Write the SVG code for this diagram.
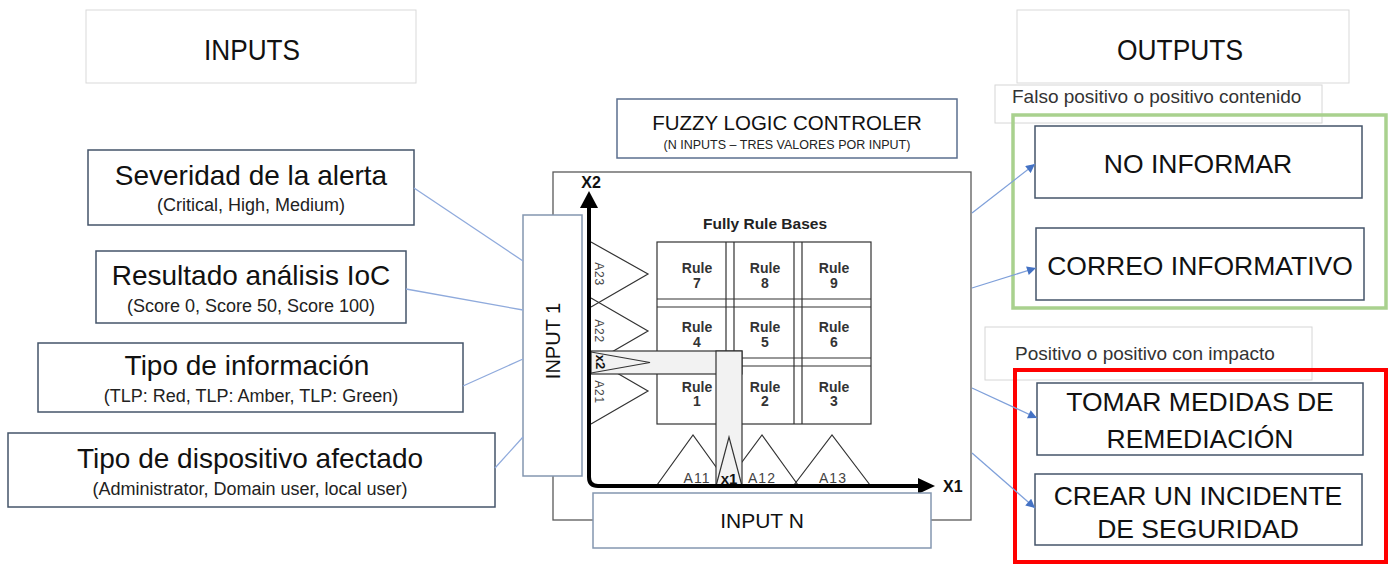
<svg xmlns="http://www.w3.org/2000/svg" width="1389" height="564" viewBox="0 0 1389 564">
<defs>
<marker id="ah" viewBox="0 0 10 10" refX="10" refY="5" markerWidth="10" markerHeight="9" markerUnits="userSpaceOnUse" orient="auto"><path d="M0,0 L10,5 L0,10 z" fill="#4472C4"/></marker>
<style>
text{font-family:"Liberation Sans",Arial,Helvetica,sans-serif}
.node{fill:#fff;stroke:#44546A;stroke-width:1.5}
.hdr{fill:#fff;stroke:#d9d9d9;stroke-width:1}
.tag{fill:#fff;stroke:#d6d6d6;stroke-width:1}
.tt{font-size:28px;text-anchor:middle;fill:#111}
.st{font-size:18px;text-anchor:middle;fill:#222}
.ot{font-size:26.5px;text-anchor:middle;fill:#111}
.lbl{font-size:19px;fill:#333}
.ln{stroke:#333;stroke-width:1.2;fill:none}
.band{fill:#f2f2f2;stroke:#333;stroke-width:1.2}
.rl{font-size:14px;font-weight:bold;text-anchor:middle;fill:#333}
.mf{font-size:14px;letter-spacing:1px;text-anchor:middle;fill:#444}
.mv{font-size:12px;letter-spacing:0.8px;text-anchor:middle;fill:#444}
.ax{font-size:16px;font-weight:bold;fill:#111}
.in{stroke:#8FAADC;stroke-width:1.3;fill:none}
.out{stroke:#7FA0DA;stroke-width:1.3;fill:none;marker-end:url(#ah)}
</style>
</defs>
<rect x="0" y="0" width="1389" height="564" fill="#fff"/>

<g id="inputs-header">
<rect class="hdr" x="86" y="10" width="330" height="73"/>
<text x="252" y="60" font-size="30" text-anchor="middle" textLength="96" lengthAdjust="spacingAndGlyphs" fill="#111">INPUTS</text>
</g>
<g id="outputs-header">
<rect class="hdr" x="1017" y="10" width="332" height="73"/>
<text x="1180" y="60" font-size="30" text-anchor="middle" textLength="126" lengthAdjust="spacingAndGlyphs" fill="#111">OUTPUTS</text>
</g>

<g id="fuzzy-controller">
<rect x="553" y="172" width="418" height="348" fill="#fff" stroke="#595959" stroke-width="1.3"/>
</g>
<g id="flc-title">
<rect x="617" y="99" width="340" height="59" fill="#fff" stroke="#5B6F8F" stroke-width="1.5"/>
<text x="787" y="130" font-size="20.5" text-anchor="middle" fill="#111">FUZZY LOGIC CONTROLER</text>
<text x="787" y="149" font-size="12.5" text-anchor="middle" fill="#222">(N INPUTS – TRES VALORES POR INPUT)</text>
</g>

<g id="rule-base">
<text x="765" y="229" font-size="15.5" font-weight="bold" text-anchor="middle" fill="#222">Fully Rule Bases</text>
<rect class="ln" x="657" y="242" width="214" height="182"/>
<path class="ln" d="M726,242V424M734,242V424M794,242V424M802,242V424M657,299H871M657,307H871M657,358H871M657,366H871"/>
<text class="rl" x="697" y="273">Rule</text><text class="rl" x="697" y="288">7</text>
<text class="rl" x="765" y="273">Rule</text><text class="rl" x="765" y="288">8</text>
<text class="rl" x="834" y="273">Rule</text><text class="rl" x="834" y="288">9</text>
<text class="rl" x="697" y="332">Rule</text><text class="rl" x="697" y="347">4</text>
<text class="rl" x="765" y="332">Rule</text><text class="rl" x="765" y="347">5</text>
<text class="rl" x="834" y="332">Rule</text><text class="rl" x="834" y="347">6</text>
<text class="rl" x="697" y="392">Rule</text><text class="rl" x="697" y="406">1</text>
<text class="rl" x="765" y="392">Rule</text><text class="rl" x="765" y="406">2</text>
<text class="rl" x="834" y="392">Rule</text><text class="rl" x="834" y="406">3</text>
</g>

<g id="membership-x2">
<polyline class="ln" points="591,242 648,274 591,307"/>
<polyline class="ln" points="591,298 648,331 591,364"/>
<polyline class="ln" points="591,358 648,391 591,424"/>
<text class="mv" transform="translate(595,274) rotate(90)">A23</text>
<text class="mv" transform="translate(595,331) rotate(90)">A22</text>
<text class="mv" transform="translate(595,392) rotate(90)">A21</text>
</g>
<g id="membership-x1">
<polyline class="ln" points="657,485 693,435 729,485"/>
<polyline class="ln" points="725,485 762,435 798,485"/>
<polyline class="ln" points="794,485 832,435 870,485"/>
<text class="mf" x="697" y="483">A11</text>
<text class="mf" x="762" y="483">A12</text>
<text class="mf" x="833" y="483">A13</text>
</g>
<g id="x2-band">
<rect class="band" x="591" y="351" width="151" height="23"/>
<polyline class="ln" points="591,352 650,362.5 591,373"/>
<text transform="translate(596,362) rotate(90)" font-size="13" font-weight="bold" text-anchor="middle" fill="#111">x2</text>
</g>
<g id="x1-band">
<rect class="band" x="716" y="351" width="26" height="135"/>
<polyline class="ln" points="716,486 729,437 742,486"/>
<text x="729" y="484" font-size="15" font-weight="bold" text-anchor="middle" fill="#111">x1</text>
</g>
<g id="axes">
<path d="M589,206V477Q589,486 598,486H920" fill="none" stroke="#000" stroke-width="4"/>
<polygon points="589,191 580,208 598,208" fill="#000"/>
<polygon points="935,486 918,478 918,494" fill="#000"/>
<text class="ax" x="591" y="188" text-anchor="middle">X2</text>
<text class="ax" x="943" y="492">X1</text>
</g>

<g id="input-1">
<rect x="523" y="215" width="59" height="261" fill="#fff" stroke="#8497B0" stroke-width="1.5"/>
<text transform="translate(560,341) rotate(-90)" font-size="20" text-anchor="middle" fill="#111">INPUT 1</text>
</g>
<g id="input-n">
<rect x="593" y="493" width="338" height="55" fill="#fff" stroke="#8497B0" stroke-width="1.5"/>
<text x="762" y="528" font-size="21" text-anchor="middle" fill="#111">INPUT N</text>
</g>

<g id="severidad">
<rect class="node" x="88" y="150" width="326" height="75"/>
<text class="tt" x="251" y="185">Severidad de la alerta</text>
<text class="st" x="251" y="211">(Critical, High, Medium)</text>
</g>
<g id="resultado">
<rect class="node" x="96" y="251" width="310" height="72"/>
<text class="tt" x="251" y="285">Resultado análisis IoC</text>
<text class="st" x="251" y="312">(Score 0, Score 50, Score 100)</text>
</g>
<g id="tipo-informacion">
<rect class="node" x="38" y="343" width="425" height="69"/>
<text class="tt" x="247" y="375">Tipo de información</text>
<text class="st" x="251" y="402">(TLP: Red, TLP: Amber, TLP: Green)</text>
</g>
<g id="tipo-dispositivo">
<rect class="node" x="8" y="433" width="487" height="74"/>
<text class="tt" x="250" y="468">Tipo de dispositivo afectado</text>
<text class="st" x="250" y="495">(Administrator, Domain user, local user)</text>
</g>

<g id="grupo-falso">
<rect class="tag" x="995" y="85" width="327" height="38"/>
<text class="lbl" x="1012" y="103">Falso positivo o positivo contenido</text>
<rect x="1013" y="115" width="373" height="193" fill="none" stroke="#A9D18E" stroke-width="3.5"/>
</g>
<g id="no-informar">
<rect class="node" x="1035" y="126" width="327" height="72"/>
<text class="ot" x="1198" y="173">NO INFORMAR</text>
</g>
<g id="correo">
<rect class="node" x="1036" y="228" width="328" height="72"/>
<text class="ot" x="1200" y="275">CORREO INFORMATIVO</text>
</g>
<g id="grupo-positivo">
<rect class="tag" x="985" y="327" width="327" height="53"/>
<text class="lbl" x="1015" y="360">Positivo o positivo con impacto</text>
<rect x="1015" y="370" width="371" height="192" fill="none" stroke="#FF0000" stroke-width="4"/>
</g>
<g id="tomar-medidas">
<rect class="node" x="1037" y="383" width="326" height="72"/>
<text class="ot" x="1200" y="411">TOMAR MEDIDAS DE</text>
<text class="ot" x="1200" y="448">REMEDIACIÓN</text>
</g>
<g id="crear-incidente">
<rect class="node" x="1035" y="474" width="327" height="71"/>
<text class="ot" x="1198" y="505">CREAR UN INCIDENTE</text>
<text class="ot" x="1198" y="538">DE SEGURIDAD</text>
</g>

<g id="connectors">
<line class="in" x1="414" y1="188" x2="523" y2="261"/>
<line class="in" x1="406" y1="289" x2="523" y2="310"/>
<line class="in" x1="463" y1="386" x2="523" y2="359"/>
<line class="in" x1="495" y1="468" x2="523" y2="437"/>
<line class="out" x1="972" y1="213" x2="1035" y2="164"/>
<line class="out" x1="972" y1="288" x2="1036" y2="268"/>
<line class="out" x1="972" y1="388" x2="1037" y2="418"/>
<line class="out" x1="972" y1="453" x2="1035" y2="508"/>
</g>
</svg>
